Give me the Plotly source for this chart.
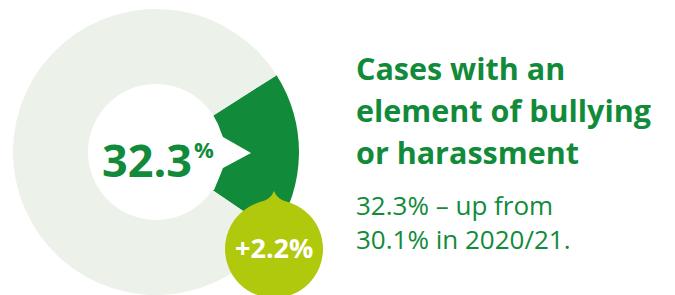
import plotly.graph_objects as go

# ---- data ----
slice_labels = ["Bullying or harassment", "Other cases"]
# drawn arc shares of the ring (the green arc as drawn spans ~67 of 360 degrees)
slice_values = [18.5, 81.5]
slice_colors = ["#118B3A", "#ECF1EA"]
headline_value = "32.3"
change_label = "+2.2%"
title_lines = ["Cases with an", "element of bullying", "or harassment"]
sub_lines = ["32.3% \u2013 up from", "30.1% in 2020/21."]

W, H = 675, 295
GREEN = "#118B3A"
LIME = "#B0C90C"


def px(x):
    return x / W


def py(y):
    return 1 - y / H


cx, cy, R, r = 156, 152, 143, 68

fig = go.Figure()
fig.add_trace(go.Pie(
    labels=slice_labels, values=slice_values, sort=False,
    direction="clockwise", rotation=57.5, hole=r / R,
    marker=dict(colors=slice_colors, line=dict(width=0)),
    textinfo="none", hoverinfo="label+value", showlegend=False,
    domain=dict(x=[px(cx - R), px(cx + R)], y=[py(cy + R), py(cy - R)]),
))

shapes = []
# white pointer into the green arc
shapes.append(dict(type="path", xref="paper", yref="paper",
                   path=f"M {px(205)} {py(116)} L {px(214)} {py(118)} L {px(223)} {py(137)} L {px(251)} {py(153)} "
                        f"L {px(223)} {py(168)} L {px(214)} {py(190)} L {px(205)} {py(192)} Z",
                   fillcolor="white", line=dict(width=0), layer="above"))
# lime badge with droplet tip
bx, by, br = 274, 249, 49
shapes.append(dict(type="circle", xref="paper", yref="paper",
                   x0=px(bx - br), x1=px(bx + br), y0=py(by + br), y1=py(by - br),
                   fillcolor=LIME, line=dict(width=0), layer="above"))
shapes.append(dict(type="path", xref="paper", yref="paper",
                   path=f"M {px(bx)} {py(191)} Q {px(bx-3)} {py(199)} {px(bx-13)} {py(202)} "
                        f"L {px(bx+13)} {py(202)} Q {px(bx+3)} {py(199)} {px(bx)} {py(191)} Z",
                   fillcolor=LIME, line=dict(width=0), layer="above"))

ann = []
FONT = "Open Sans"
ann.append(dict(x=px(147), y=py(159), text=f"<b>{headline_value}</b>", showarrow=False,
                xanchor="center", yanchor="middle",
                font=dict(family=FONT, size=45, color=GREEN)))
ann.append(dict(x=px(192), y=py(149), text="<b>%</b>", showarrow=False,
                xanchor="left", yanchor="middle",
                font=dict(family=FONT, size=22, color=GREEN)))
ann.append(dict(x=px(bx), y=py(247), text=f"<b>{change_label}</b>", showarrow=False,
                xanchor="center", yanchor="middle",
                font=dict(family=FONT, size=27, color="white")))

for i, t in enumerate(title_lines):
    ann.append(dict(x=px(354), y=py(68 + 42 * i), text=f"<b>{t}</b>", showarrow=False,
                    xanchor="left", yanchor="middle", height=38,
                    font=dict(family=FONT, size=30.5, color=GREEN)))
ann.append(dict(x=px(354), y=py(222), text="<br>".join(sub_lines), showarrow=False,
                xanchor="left", yanchor="middle", align="left",
                font=dict(family=FONT, size=26, color=GREEN)))

fig.update_layout(width=W, height=H, margin=dict(l=0, r=0, t=0, b=0),
                  paper_bgcolor="white", plot_bgcolor="white",
                  shapes=shapes, annotations=ann)
fig.write_html("out.html", config={"displayModeBar": False},
               post_script="document.body.style.margin='0';")
